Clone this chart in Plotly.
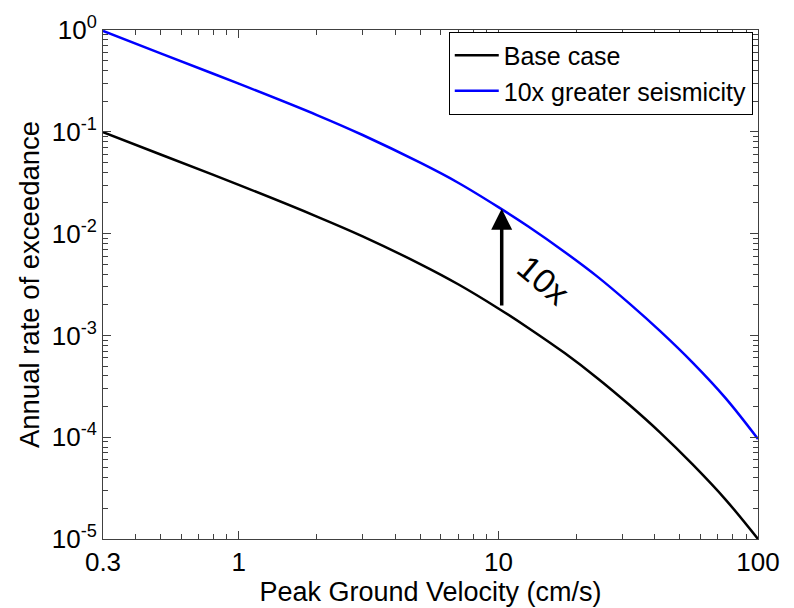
import math
import plotly.graph_objects as go

# Data
pgv = [0.3, 0.5, 1, 2, 3, 5, 7, 10, 13, 18, 24, 32, 42, 56, 75, 100]
base_case = [0.099, 0.0598, 0.0301, 0.0147, 0.0094, 0.00502, 0.00318, 0.00184, 0.00119,
             6.7e-4, 3.82e-4, 2.07e-4, 1.11e-4, 5.4e-5, 2.44e-5, 1.0e-5]
greater_seismicity = [0.98, 0.59, 0.297, 0.146, 0.093, 0.0497, 0.0316, 0.0182, 0.0118,
                      0.0066, 0.0038, 0.00205, 0.00110, 5.4e-4, 2.42e-4, 9.6e-5]

x_tickvals = [0.3, 1, 10, 100]
x_ticktext = ["0.3", "1", "10", "100"]
y_tickvals = [1e-5, 1e-4, 1e-3, 1e-2, 1e-1, 1]
y_ticktext = ["10<sup>-5</sup>", "10<sup>-4</sup>", "10<sup>-3</sup>",
              "10<sup>-2</sup>", "10<sup>-1</sup>", "10<sup>0</sup>"]

arrow_x = 10.3
arrow_from = 0.0019
arrow_to = 0.0175
label_x, label_y = 14.9, 0.0035

FONT = "Liberation Sans, Arial, sans-serif"

# minor tick positions (2..9 within each decade)
x_minor = [k * 10 ** d for d in range(-1, 2) for k in range(2, 10) if 0.3 < k * 10 ** d < 100]
y_minor = [k * 10 ** d for d in range(-5, 0) for k in range(2, 10)]

fig = go.Figure()
fig.add_trace(go.Scatter(x=pgv, y=base_case, mode="lines", name="Base case",
                         line=dict(color="black", width=2.5, shape="spline", smoothing=1.0)))
fig.add_trace(go.Scatter(x=pgv, y=greater_seismicity, mode="lines", name="10x greater seismicity",
                         line=dict(color="#0000FF", width=2.5, shape="spline", smoothing=1.0)))

fig.add_annotation(x=math.log10(arrow_x), y=math.log10(arrow_to),
                   ax=math.log10(arrow_x), ay=math.log10(arrow_from),
                   xref="x", yref="y", axref="x", ayref="y",
                   showarrow=True, arrowhead=2, arrowsize=1.2, arrowwidth=3.5,
                   arrowcolor="black", text="")
fig.add_annotation(x=math.log10(label_x), y=math.log10(label_y), xref="x", yref="y",
                   text="10x", showarrow=False, textangle=40,
                   font=dict(family=FONT, size=34, color="black"))

axis_common = dict(showline=True, linecolor="#404040", linewidth=1, mirror="allticks",
                   ticks="inside", ticklen=8, tickcolor="#404040",
                   showgrid=False, zeroline=False,
                   tickfont=dict(family=FONT, size=26, color="black"))

fig.update_xaxes(type="log", range=[math.log10(0.3), 2], tickvals=x_tickvals, ticktext=x_ticktext,
                 title=dict(text="Peak Ground Velocity (cm/s)", font=dict(family=FONT, size=27, color="black"),
                            standoff=0),
                 minor=dict(ticks="inside", ticklen=5, tickcolor="#404040", showgrid=False,
                            tickvals=x_minor),
                 **axis_common)
fig.update_yaxes(type="log", range=[-5, 0], tickvals=y_tickvals, ticktext=y_ticktext,
                 title=dict(text="Annual rate of exceedance", font=dict(family=FONT, size=27.5, color="black"),
                            standoff=4),
                 minor=dict(ticks="inside", ticklen=5, tickcolor="#404040", showgrid=False,
                            tickvals=y_minor),
                 **axis_common)

fig.update_layout(
    width=794, height=608,
    margin=dict(l=103, r=36, t=25, b=65),
    paper_bgcolor="white", plot_bgcolor="white",
    font=dict(family=FONT, color="black"),
    legend=dict(x=0.992, y=0.997, xanchor="right", yanchor="top",
                bordercolor="black", borderwidth=1, bgcolor="white",
                font=dict(family=FONT, size=25, color="black"),
                tracegroupgap=0, itemwidth=44),
)

fig.write_html("out.html")
